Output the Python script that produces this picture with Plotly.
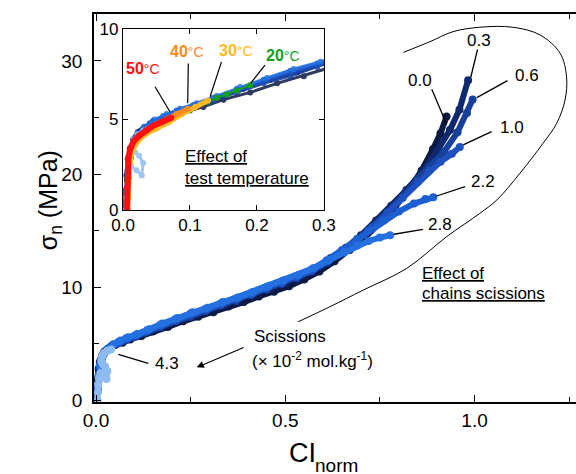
import plotly.graph_objects as go

# ---------------- data ----------------
# chain-scission series (x 10^-2 mol/kg): CI_norm vs sigma_n (MPa)
x_s00 = [0.000, 0.004, 0.006, 0.008, 0.011, 0.016, 0.024, 0.035, 0.05, 0.07, 0.09, 0.12, 0.15, 0.19, 0.23, 0.27, 0.31, 0.35, 0.39, 0.43, 0.47, 0.51, 0.55, 0.59, 0.63, 0.67, 0.71, 0.75, 0.79, 0.83, 0.86, 0.89, 0.91, 0.926]
y_s00 = [0.0, 0.8, 1.7, 2.6, 3.3, 3.8, 4.3, 4.6, 4.9, 5.1, 5.4, 5.7, 6.1, 6.5, 7.0, 7.4, 7.8, 8.3, 8.7, 9.2, 9.6, 10.1, 10.7, 11.4, 12.3, 13.3, 14.4, 15.7, 17.1, 18.8, 20.3, 22.2, 23.6, 25.1]

x_s03 = [0.000, 0.003, 0.005, 0.007, 0.010, 0.015, 0.022, 0.032, 0.045, 0.065, 0.085, 0.11, 0.14, 0.18, 0.22, 0.26, 0.30, 0.34, 0.38, 0.42, 0.46, 0.50, 0.54, 0.58, 0.62, 0.66, 0.70, 0.74, 0.78, 0.82, 0.86, 0.90, 0.935, 0.96, 0.983]
y_s03 = [0.0, 0.9, 1.9, 2.8, 3.4, 3.9, 4.3, 4.6, 4.9, 5.2, 5.5, 5.8, 6.2, 6.7, 7.2, 7.6, 8.1, 8.5, 9.0, 9.5, 9.9, 10.4, 11.0, 11.7, 12.6, 13.5, 14.6, 15.9, 17.2, 18.6, 20.1, 22.0, 23.9, 25.7, 28.3]

x_s06 = [0.000, 0.004, 0.006, 0.009, 0.012, 0.018, 0.026, 0.04, 0.055, 0.075, 0.10, 0.13, 0.17, 0.21, 0.25, 0.29, 0.33, 0.37, 0.41, 0.45, 0.49, 0.53, 0.57, 0.61, 0.65, 0.69, 0.73, 0.77, 0.81, 0.85, 0.88, 0.92, 0.955, 0.98, 0.995]
y_s06 = [0.0, 1.0, 2.0, 2.9, 3.5, 4.0, 4.4, 4.8, 5.0, 5.3, 5.6, 6.0, 6.5, 7.0, 7.4, 7.9, 8.4, 8.8, 9.3, 9.8, 10.3, 10.8, 11.4, 12.2, 13.1, 14.1, 15.3, 16.6, 18.0, 19.6, 20.6, 22.0, 23.7, 25.4, 26.6]

x_s10 = [0.000, 0.004, 0.007, 0.010, 0.014, 0.020, 0.03, 0.045, 0.06, 0.08, 0.105, 0.135, 0.17, 0.21, 0.25, 0.29, 0.33, 0.37, 0.41, 0.45, 0.49, 0.53, 0.57, 0.61, 0.65, 0.69, 0.73, 0.77, 0.81, 0.85, 0.88, 0.91, 0.94, 0.961]
y_s10 = [0.0, 1.1, 2.2, 3.0, 3.6, 4.1, 4.5, 4.9, 5.1, 5.4, 5.7, 6.1, 6.6, 7.1, 7.6, 8.0, 8.5, 9.0, 9.4, 9.9, 10.4, 10.9, 11.5, 12.3, 13.2, 14.2, 15.3, 16.6, 17.9, 19.3, 20.3, 21.1, 21.8, 22.4]

x_s22 = [0.000, 0.004, 0.007, 0.010, 0.014, 0.021, 0.03, 0.045, 0.06, 0.08, 0.105, 0.135, 0.17, 0.21, 0.25, 0.29, 0.33, 0.37, 0.41, 0.45, 0.49, 0.53, 0.57, 0.61, 0.65, 0.69, 0.72, 0.76, 0.80, 0.84, 0.87, 0.891]
y_s22 = [0.0, 1.0, 2.1, 3.0, 3.6, 4.1, 4.5, 4.9, 5.2, 5.5, 5.8, 6.2, 6.7, 7.2, 7.7, 8.1, 8.6, 9.0, 9.5, 10.0, 10.5, 11.0, 11.6, 12.4, 13.3, 14.3, 15.0, 15.9, 16.7, 17.4, 17.8, 17.95]

x_s28 = [0.000, 0.004, 0.007, 0.010, 0.015, 0.022, 0.032, 0.047, 0.065, 0.085, 0.11, 0.14, 0.175, 0.215, 0.255, 0.295, 0.335, 0.375, 0.415, 0.455, 0.495, 0.535, 0.575, 0.615, 0.655, 0.69, 0.72, 0.75, 0.777]
y_s28 = [0.0, 1.1, 2.2, 3.1, 3.7, 4.2, 4.6, 5.0, 5.3, 5.6, 5.9, 6.3, 6.8, 7.3, 7.8, 8.2, 8.7, 9.1, 9.6, 10.1, 10.6, 11.1, 11.7, 12.4, 13.1, 13.7, 14.1, 14.4, 14.6]

x_s43 = [0.004, 0.005, 0.006, 0.008, 0.012, 0.02, 0.028, 0.03, 0.024, 0.018, 0.014, 0.016, 0.022, 0.03, 0.04]
y_s43 = [0.0, 0.7, 1.4, 2.0, 2.4, 2.2, 1.9, 2.6, 3.0, 3.2, 3.5, 3.9, 4.2, 4.4, 4.5]

scission_labels = ["0.0", "0.3", "0.6", "1.0", "2.2", "2.8", "4.3"]
scission_colors = ["#0b1a45", "#10296e", "#173f9c", "#1f50bf", "#1b5fd3", "#2470e0", "#8fbcf0"]

# test-temperature series (inset)
x_t50 = [0.006, 0.006, 0.007, 0.008, 0.011, 0.016, 0.024, 0.034, 0.045, 0.057, 0.072]
y_t50 = [0.0, 1.2, 2.2, 2.9, 3.4, 3.8, 4.1, 4.4, 4.65, 4.85, 5.1]
x_t40 = [0.006, 0.007, 0.008, 0.010, 0.015, 0.024, 0.036, 0.05, 0.065, 0.08, 0.097]
y_t40 = [0.0, 1.5, 2.6, 3.2, 3.7, 4.1, 4.45, 4.75, 5.0, 5.3, 5.6]
x_t30 = [0.007, 0.008, 0.010, 0.014, 0.022, 0.034, 0.05, 0.068, 0.088, 0.108, 0.127]
y_t30 = [0.0, 1.5, 2.6, 3.3, 3.8, 4.2, 4.5, 4.85, 5.3, 5.7, 6.05]
x_t20 = [0.007, 0.009, 0.012, 0.018, 0.028, 0.045, 0.07, 0.10, 0.125, 0.14, 0.155, 0.17, 0.19]
y_t20 = [0.0, 1.8, 2.9, 3.6, 4.1, 4.5, 5.0, 5.5, 5.95, 6.2, 6.4, 6.6, 6.9]
temp_labels = ["50", "40", "30", "20"]
temp_colors = ["#ff1010", "#ff8a1c", "#ffb820", "#13a01a"]

# sweep arc (effect of chain scissions)
arc_x = [0.812, 0.882, 0.943, 1.014, 1.101, 1.173, 1.226, 1.243, 1.239, 1.217, 1.181, 1.120, 1.059, 1.014, 0.926, 0.821, 0.706, 0.618, 0.534]
arc_y = [30.76, 31.70, 32.59, 32.98, 32.98, 32.30, 30.68, 28.61, 26.55, 24.49, 22.73, 20.08, 17.72, 16.54, 14.47, 11.68, 9.76, 8.29, 6.96]

# label positions / leader lines (data coords of main axes)
lab_x = [0.856, 1.012, 1.138, 1.098, 1.022, 0.909, 0.187]
lab_y = [28.3, 31.8, 28.76, 24.1, 19.33, 15.57, 3.29]
lead_x0 = [0.887, 1.008, 1.087, 1.045, 0.975, 0.864, 0.138]
lead_y0 = [27.5, 31.03, 28.26, 23.75, 18.89, 15.13, 3.29]
lead_x1 = [0.926, 0.990, 1.006, 0.970, 0.900, 0.787, 0.059]
lead_y1 = [24.44, 28.56, 26.76, 22.58, 18.07, 14.69, 4.08]

# temperature labels / leaders (inset data coords)
tlab_x = [0.0303, 0.096, 0.169, 0.239]
tlab_y = [7.83, 8.75, 8.84, 8.56]
tlead_x0 = [0.0478, 0.0975, 0.147, 0.212]
tlead_y0 = [6.81, 8.10, 8.19, 8.01]
tlead_x1 = [0.0701, 0.0966, 0.130, 0.191]
tlead_y1 = [5.43, 5.90, 6.26, 7.03]

FONT = "Liberation Sans, Arial, sans-serif"

fig = go.Figure()

scission_x = [x_s00, x_s03, x_s06, x_s10, x_s22, x_s28, x_s43]
scission_y = [y_s00, y_s03, y_s06, y_s10, y_s22, y_s28, y_s43]

# main axes
for xs, ys, c, n in zip(scission_x, scission_y, scission_colors, scission_labels):
    fig.add_trace(go.Scatter(x=xs, y=ys, mode="lines+markers", name=n,
                             line=dict(color=c, width=6),
                             marker=dict(color=c, size=8),
                             xaxis="x", yaxis="y", showlegend=False, hoverinfo="skip"))

fig.add_trace(go.Scatter(x=arc_x, y=arc_y, mode="lines", line=dict(color="black", width=1, shape="spline"),
                         xaxis="x", yaxis="y", showlegend=False, hoverinfo="skip"))

# inset: same scission data
for xs, ys, c, n in zip(scission_x, scission_y, scission_colors, scission_labels):
    fig.add_trace(go.Scatter(x=xs, y=ys, mode="lines+markers", name=n,
                             line=dict(color=c, width=3),
                             marker=dict(color=c, size=6),
                             opacity=0.85,
                             xaxis="x2", yaxis="y2", showlegend=False, hoverinfo="skip"))

temp_x = [x_t20, x_t30, x_t40, x_t50]
temp_y = [y_t20, y_t30, y_t40, y_t50]
temp_c = [temp_colors[3], temp_colors[2], temp_colors[1], temp_colors[0]]
temp_w = [2, 5, 5, 6]
for xs, ys, c, w in zip(temp_x, temp_y, temp_c, temp_w):
    fig.add_trace(go.Scatter(x=xs, y=ys, mode="lines+markers",
                             line=dict(color=c, width=w),
                             marker=dict(color=c, size=6),
                             xaxis="x2", yaxis="y2", showlegend=False, hoverinfo="skip"))

annotations = []
shapes = []
for t, lx, ly, x0, y0, x1, y1 in zip(scission_labels, lab_x, lab_y, lead_x0, lead_y0, lead_x1, lead_y1):
    annotations.append(dict(x=lx, y=ly, xref="x", yref="y", text=t, showarrow=False,
                            font=dict(family=FONT, size=17, color="black")))
    shapes.append(dict(type="line", xref="x", yref="y", x0=x0, y0=y0, x1=x1, y1=y1,
                       line=dict(color="black", width=1.3)))

for t, c, lx, ly, x0, y0, x1, y1 in zip(temp_labels, temp_colors, tlab_x, tlab_y, tlead_x0, tlead_y0, tlead_x1, tlead_y1):
    annotations.append(dict(x=lx, y=ly, xref="x2", yref="y2",
                            text="<b>%s</b><span style='font-size:14px'>°C</span>" % t,
                            showarrow=False, font=dict(family=FONT, size=16, color=c)))
    shapes.append(dict(type="line", xref="x2", yref="y2", x0=x0, y0=y0, x1=x1, y1=y1,
                       line=dict(color="black", width=1.2)))

# texts
annotations += [
    dict(x=0.856, y=11.24, xref="x", yref="y", xanchor="left", text="<u>Effect of</u>", showarrow=False,
         font=dict(family=FONT, size=17, color="black")),
    dict(x=0.856, y=9.47, xref="x", yref="y", xanchor="left", text="<u>chains scissions</u>", showarrow=False,
         font=dict(family=FONT, size=17, color="black")),
    dict(x=0.09, y=2.94, xref="x2", yref="y2", xanchor="left", text="<u>Effect of</u>", showarrow=False,
         font=dict(family=FONT, size=17, color="black")),
    dict(x=0.09, y=1.75, xref="x2", yref="y2", xanchor="left", text="<u>test temperature</u>", showarrow=False,
         font=dict(family=FONT, size=17, color="black")),
    dict(x=0.411, y=5.64, xref="x", yref="y", xanchor="left", text="Scissions", showarrow=False,
         font=dict(family=FONT, size=17, color="black")),
    dict(x=0.407, y=3.58, xref="x", yref="y", xanchor="left",
         text="(× 10<sup>-2</sup> mol.kg<sup>-1</sup>)", showarrow=False,
         font=dict(family=FONT, size=17, color="black")),
    dict(x=0.266, y=2.93, xref="x", yref="y", ax=0.394, ay=4.75, axref="x", ayref="y",
         text="", showarrow=True, arrowhead=2, arrowsize=1.3, arrowwidth=1.1, arrowcolor="black"),
    dict(x=-0.1286, y=0.52, xref="paper", yref="paper", text="σ<sub>n</sub> (MPa)", textangle=-90,
         showarrow=False, font=dict(family=FONT, size=25, color="black")),
    dict(x=0.4647, y=-0.131, xref="paper", yref="paper", xanchor="right", yanchor="middle",
         text="CI", showarrow=False, font=dict(family=FONT, size=27, color="black")),
    dict(x=0.455, y=-0.163, xref="paper", yref="paper", xanchor="left", yanchor="middle",
         text="norm", showarrow=False, font=dict(family=FONT, size=19, color="black")),
]

fig.update_layout(
    width=576, height=474,
    margin=dict(l=94, r=0, t=14, b=72),
    paper_bgcolor="white", plot_bgcolor="white",
    font=dict(family=FONT, color="black"),
    xaxis=dict(range=[-0.0053, 1.268], domain=[0, 1], anchor="y", automargin=False,
               showline=True, linecolor="black", linewidth=1.5, mirror="ticks",
               ticks="inside", ticklen=7, tickwidth=1.3, tickcolor="black",
               dtick=0.5, tick0=0, tickformat=".1f", showgrid=False, zeroline=False,
               tickfont=dict(family=FONT, size=19, color="black"),
               minor=dict(dtick=0.25, ticks="inside", ticklen=5, tickwidth=1.3, tickcolor="black", showgrid=False)),
    yaxis=dict(range=[-0.13, 34.15], domain=[0, 1], anchor="x", automargin=False,
               showline=True, linecolor="black", linewidth=1.5, mirror=False,
               ticks="inside", ticklen=7, tickwidth=1.3, tickcolor="black",
               dtick=10, tick0=0, showgrid=False, zeroline=False,
               tickfont=dict(family=FONT, size=19, color="black"), ticklabelstandoff=6,
               minor=dict(dtick=5, ticks="inside", ticklen=5, tickwidth=1.3, tickcolor="black", showgrid=False)),
    xaxis2=dict(range=[0, 0.3], domain=[0.0602, 0.477], anchor="y2", automargin=False,
                showline=True, linecolor="black", linewidth=1.2, mirror="ticks",
                ticks="inside", ticklen=5, tickwidth=1.2, tickcolor="black",
                dtick=0.1, tick0=0, tickformat=".1f", showgrid=False, zeroline=False,
                tickfont=dict(family=FONT, size=17, color="black")),
    yaxis2=dict(range=[0, 10], domain=[0.495, 0.961], anchor="x2", automargin=False,
                showline=True, linecolor="black", linewidth=1.2, mirror="ticks",
                ticks="inside", ticklen=5, tickwidth=1.2, tickcolor="black",
                dtick=5, tick0=0, showgrid=False, zeroline=False,
                tickfont=dict(family=FONT, size=17, color="black")),
    annotations=annotations,
    shapes=shapes,
    showlegend=False,
)

fig.write_html("out.html", config={"displayModeBar": False},
               post_script="document.body.style.margin='0';document.body.style.overflow='hidden';")
